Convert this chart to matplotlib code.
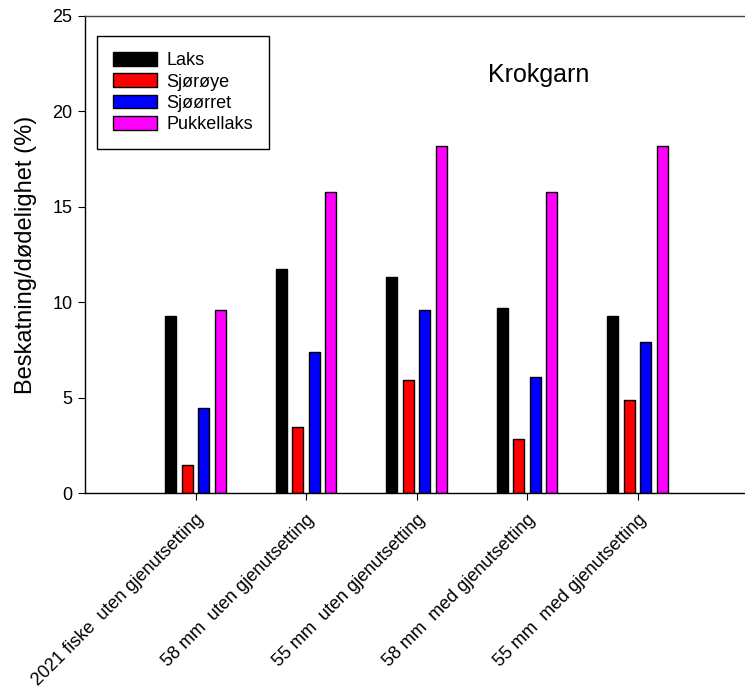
import matplotlib
matplotlib.use("Agg")
import matplotlib.pyplot as plt
import numpy as np

plt.rcParams['font.family'] = ['Liberation Sans', 'DejaVu Sans']

categories = ["2021 fiske  uten gjenutsetting",
              "58 mm  uten gjenutsetting",
              "55 mm  uten gjenutsetting",
              "58 mm  med gjenutsetting",
              "55 mm  med gjenutsetting"]
species = ["Laks", "Sjørøye", "Sjøørret", "Pukkellaks"]
colors = ["black", "red", "blue", "magenta"]

laks = [9.3, 11.75, 11.3, 9.7, 9.3]
sjoroye = [1.47, 3.45, 5.9, 2.83, 4.87]
sjoorret = [4.45, 7.38, 9.6, 6.08, 7.9]
pukkellaks = [9.6, 15.75, 18.2, 15.75, 18.2]
values = [laks, sjoroye, sjoorret, pukkellaks]

fig = plt.figure(figsize=(7.45, 6.9), dpi=100)
ax = fig.add_axes([85 / 745, 197 / 690, 663 / 745, 477 / 690])

x = np.arange(1, len(categories) + 1)
width = 0.1
offsets = [-0.225, -0.075, 0.075, 0.225]
for vals, name, col, off in zip(values, species, colors, offsets):
    ax.bar(x + off, vals, width, color=col, edgecolor="black",
           linewidth=1.0, label=name)

ax.set_xlim(0, 6)
ax.set_ylim(0, 25)
ax.set_yticks([0, 5, 10, 15, 20, 25])
ax.set_xticks(x)
ax.set_xticklabels(categories, rotation=45, ha="right", va="top",
                   rotation_mode="anchor", fontsize=13)
ax.tick_params(axis="y", labelsize=13, direction="out", length=5, width=0.8, pad=4)
ax.tick_params(axis="x", direction="out", length=5, width=0.8, pad=8)
ax.set_ylabel("Beskatning/dødelighet (%)", fontsize=17, labelpad=11)

ax.spines["right"].set_visible(False)
ax.spines["top"].set_color("#444444")
for s in ["left", "bottom", "top"]:
    ax.spines[s].set_linewidth(1.0)

leg = ax.legend(loc="upper left", bbox_to_anchor=(0.018, 0.958), fontsize=13,
                frameon=True, fancybox=False, framealpha=1, edgecolor="black",
                handlelength=2.4, handleheight=0.8, handletextpad=0.55,
                labelspacing=0.22, borderpad=0.9, borderaxespad=0)
leg.get_frame().set_linewidth(1.0)

ax.text(0.685, 0.876, "Krokgarn", transform=ax.transAxes, fontsize=18,
        ha="center", va="center")

fig.savefig("out.png", dpi=100)
